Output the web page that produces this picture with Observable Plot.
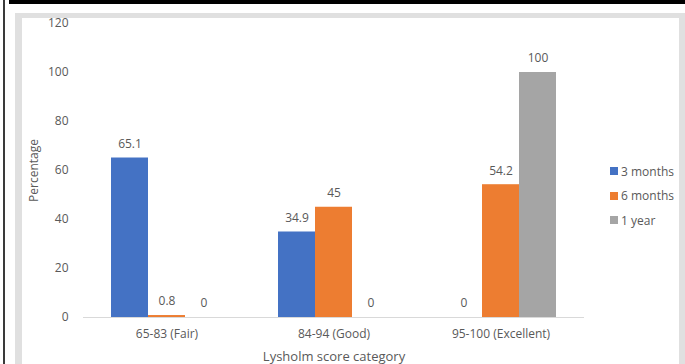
<!DOCTYPE html>
<html><head><meta charset="utf-8">
<script src="https://cdn.jsdelivr.net/npm/d3@7"></script>
<script src="https://cdn.jsdelivr.net/npm/@observablehq/plot@0.6"></script>
<style>
body{margin:0;background:#fff;width:685px;height:364px;overflow:hidden;position:relative;font-family:"Open Sans",sans-serif;}
#band{position:absolute;left:9px;top:0;width:676px;height:4px;background:#000}
#vline{position:absolute;left:3px;top:0;width:2px;height:364px;background:#3a3a3a}
#frame{position:absolute;left:15px;top:13px;width:657px;height:400px;border:7px solid #e0e0e0;border-top-width:5px;border-bottom:none;background:#fff}
#chart{position:absolute;left:0;top:0}
#legend{position:absolute;left:610px;top:163px;font-size:12px;color:#595959}
.item{display:flex;align-items:center;height:16px;margin-bottom:8.5px;white-space:nowrap}
.sw{width:8px;height:8px;margin-right:3px}
g[aria-label="fx-axis label"] text{font-size:13px}
</style></head>
<body>
<div id="band"></div><div id="vline"></div><div id="frame"></div>
<div id="chart"></div>
<div id="legend"></div>
<script>
const categories = ["65-83 (Fair)", "84-94 (Good)", "95-100 (Excellent)"];
const series = ["3 months", "6 months", "1 year"];
const months3 = [65.1, 34.9, 0];
const months6 = [0.8, 45, 54.2];
const year1 = [0, 0, 100];
const colors = ["#4472C4", "#ED7D31", "#A5A5A5"];
const yTicks = [0, 20, 40, 60, 80, 100, 120];

const seriesValues = [months3, months6, year1];
const data = categories.flatMap((c, i) => series.map((s, j) => ({category: c, series: s, value: seriesValues[j][i]})));

const chart = Plot.plot({
  width: 685, height: 364,
  marginLeft: 82, marginRight: 100, marginTop: 23, marginBottom: 47,
  style: {background: "transparent", fontFamily: "Open Sans", fontSize: "12px", color: "#595959"},
  fx: {domain: categories, padding: 0, axis: "bottom", tickSize: 0, tickPadding: 12, label: "Lysholm score category", labelAnchor: "center", labelOffset: 43},
  x: {domain: series, paddingInner: 0, paddingOuter: 0.75, axis: null},
  y: {domain: [0, 120], ticks: yTicks, tickSize: 0, tickPadding: 15, label: "Percentage", labelAnchor: "center", labelOffset: 54, labelArrow: "none"},
  color: {domain: series, range: colors},
  marks: [
    Plot.ruleY([0], {stroke: "#d9d9d9", strokeWidth: 1}),
    Plot.barY(data, {fx: "category", x: "series", y: "value", fill: "series"}),
    Plot.text(data, {fx: "category", x: "series", y: "value", text: d => String(d.value), dy: -14, fill: "#595959", fontSize: 12})
  ]
});
document.getElementById("chart").appendChild(chart);

const legend = document.getElementById("legend");
series.forEach((s, i) => {
  const it = document.createElement("div");
  it.className = "item";
  it.innerHTML = `<span class="sw" style="background:${colors[i]}"></span><span>${s}</span>`;
  legend.appendChild(it);
});
</script>
</body></html>
